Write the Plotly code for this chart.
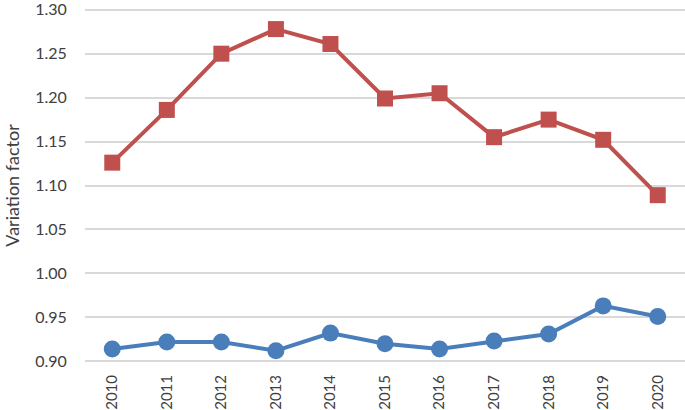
import plotly.graph_objects as go

years = [str(y) for y in range(2010, 2021)]
red_values = [1.126, 1.186, 1.250, 1.278, 1.261, 1.199, 1.205, 1.155, 1.175, 1.152, 1.089]
blue_values = [0.914, 0.922, 0.922, 0.912, 0.932, 0.920, 0.914, 0.923, 0.931, 0.963, 0.951]
y_ticks = [0.90, 0.95, 1.00, 1.05, 1.10, 1.15, 1.20, 1.25, 1.30]

fig = go.Figure()
fig.add_trace(go.Scatter(x=years, y=red_values, mode="lines+markers",
                         line=dict(color="#C0504D", width=4),
                         marker=dict(symbol="square", size=16, color="#C0504D")))
fig.add_trace(go.Scatter(x=years, y=blue_values, mode="lines+markers",
                         line=dict(color="#4A7EBB", width=4),
                         marker=dict(symbol="circle", size=17, color="#4A7EBB")))

fig.update_layout(
    width=685, height=410,
    margin=dict(l=85, r=0, t=8, b=47, autoexpand=False),
    plot_bgcolor="white", paper_bgcolor="white",
    showlegend=False,
    font=dict(family="Lato, Open Sans, sans-serif", color="#404040", size=16),
)
fig.update_xaxes(type="category", range=[-0.5, 10.5], tickangle=-90, showgrid=False,
                 zeroline=False, showline=False, ticks="outside", ticklen=5,
                 tickcolor="rgba(0,0,0,0)", tickfont=dict(size=15, color="#404040"),
                 automargin=False)
fig.update_yaxes(range=[0.898, 1.302], tickvals=y_ticks, tickformat=".2f",
                 showgrid=True, gridcolor="#D9D9D9", gridwidth=1.5, zeroline=False,
                 showline=False, ticks="outside", ticklen=14, tickcolor="rgba(0,0,0,0)",
                 tickfont=dict(size=16, color="#404040"), automargin=False,
                 ticklabeloverflow="allow",
                 title=dict(text="Variation factor", font=dict(size=18, color="#404040"),
                            standoff=10))

fig.write_html("out.html", config={"displayModeBar": False},
               post_script="document.body.style.margin='0';")
